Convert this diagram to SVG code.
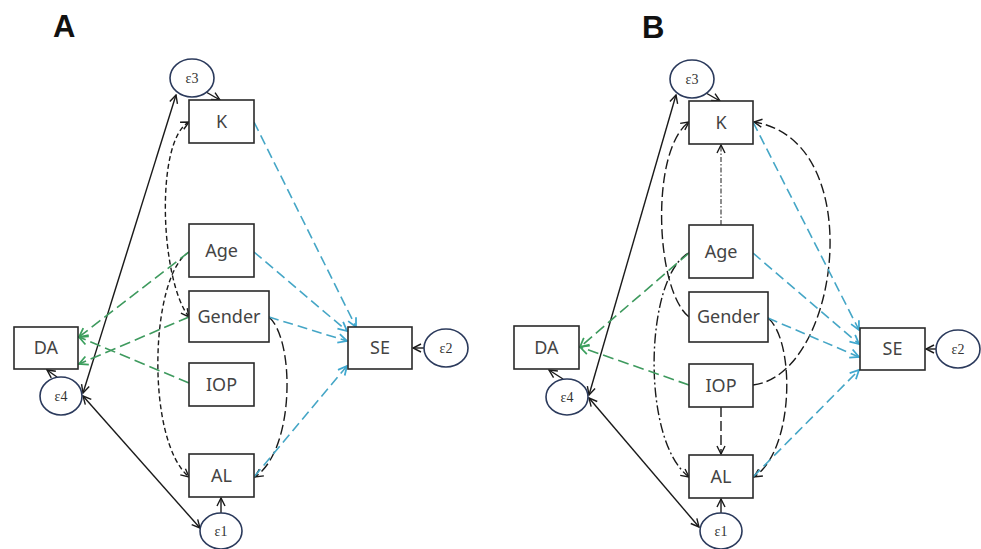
<svg xmlns="http://www.w3.org/2000/svg" width="981" height="549" viewBox="0 0 981 549">
<style>
.bg{fill:#ffffff}
.box{fill:#ffffff;stroke:#2a2a2a;stroke-width:1.6}
.err{fill:#ffffff;stroke:#2b3a5c;stroke-width:1.6}
.lbl{font-family:"Noto Sans","Open Sans","Liberation Sans",sans-serif;font-size:18px;fill:#444;text-anchor:middle}
.elbl{font-family:"Liberation Serif","DejaVu Serif",serif;font-size:14px;fill:#333;text-anchor:middle}
.panel{font-family:"Liberation Sans","Arial",sans-serif;font-size:31px;font-weight:bold;fill:#111}
.c{fill:none;stroke:#1a1a1a;stroke-width:1.4}
.sd{stroke-dasharray:5 3}
.ld{stroke-dasharray:10 4}
.dd{stroke-dasharray:10 3 2 3}
.dd2{stroke-dasharray:5 2 1.5 2;stroke-width:1}
.g{fill:none;stroke:#3e9a5e;stroke-width:1.6;stroke-dasharray:11 5}
.b{fill:none;stroke:#45a6c6;stroke-width:1.6;stroke-dasharray:10 5}
</style>
<defs>
<marker id="ak" viewBox="0 0 10 10" refX="9" refY="5" markerWidth="10" markerHeight="10" markerUnits="userSpaceOnUse" orient="auto-start-reverse"><path d="M1,1 L9,5 L1,9" fill="none" stroke="#1a1a1a" stroke-width="1.4"/></marker>
<marker id="ag" viewBox="0 0 10 10" refX="9" refY="5" markerWidth="11" markerHeight="11" markerUnits="userSpaceOnUse" orient="auto"><path d="M1,1 L9,5 L1,9" fill="none" stroke="#3ca05e" stroke-width="1.6"/></marker>
<marker id="ab" viewBox="0 0 10 10" refX="9" refY="5" markerWidth="11" markerHeight="11" markerUnits="userSpaceOnUse" orient="auto"><path d="M1,1 L9,5 L1,9" fill="none" stroke="#3fa8d0" stroke-width="1.6"/></marker>
</defs>
<rect class="bg" x="0" y="0" width="981" height="549"/>
<text class="panel" x="53" y="37">A</text>
<text class="panel" x="642" y="38">B</text>

<g id="connectors">
<!-- Panel A -->
<path class="c" d="M206,92 L220,100" marker-end="url(#ak)"/>
<path class="c" d="M57,377 L47,370" marker-end="url(#ak)"/>
<path class="c" d="M221,513 L221,498" marker-end="url(#ak)"/>
<path class="c" d="M424,348 L413,348" marker-end="url(#ak)"/>
<path class="c" d="M176,95 L83,393" marker-start="url(#ak)" marker-end="url(#ak)"/>
<path class="c" d="M83,396 L200,528" marker-start="url(#ak)" marker-end="url(#ak)"/>
<path class="c sd" d="M189,122 C155,140 160,280 189,317" marker-start="url(#ak)" marker-end="url(#ak)"/>
<path class="c sd" d="M189,252 C150,275 145,440 189,477" marker-end="url(#ak)"/>
<path class="c ld" d="M269,317 C295,340 295,450 255,477" marker-end="url(#ak)"/>
<path class="g" d="M189,252 L79,337" marker-end="url(#ag)"/>
<path class="g" d="M189,383 L79,337" marker-end="url(#ag)"/>
<path class="g" d="M189,317 L79,364" marker-end="url(#ag)"/>
<path class="b" d="M254,122 L356,327" marker-end="url(#ab)"/>
<path class="b" d="M254,252 L347,331" marker-end="url(#ab)"/>
<path class="b" d="M269,317 L347,341" marker-end="url(#ab)"/>
<path class="b" d="M254,477 L347,366" marker-end="url(#ab)"/>
<!-- Panel B -->
<path class="c" d="M706,93 L720,101" marker-end="url(#ak)"/>
<path class="c" d="M563,379 L549,370" marker-end="url(#ak)"/>
<path class="c" d="M721,513 L721,499" marker-end="url(#ak)"/>
<path class="c" d="M936,349 L926,349" marker-end="url(#ak)"/>
<path class="c" d="M676,95 L589,395" marker-start="url(#ak)" marker-end="url(#ak)"/>
<path class="c" d="M589,398 L699,527" marker-start="url(#ak)" marker-end="url(#ak)"/>
<path class="c dd2" d="M721,225 L721,145" marker-end="url(#ak)"/>
<path class="c ld" d="M689,317 C655,290 650,150 689,122" marker-end="url(#ak)"/>
<path class="c dd" d="M689,253 C645,275 640,440 689,477" marker-end="url(#ak)"/>
<path class="c ld" d="M768,318 C795,340 795,450 754,477" marker-end="url(#ak)"/>
<path class="c ld" d="M753,385 C840,375 870,140 754,122" marker-end="url(#ak)"/>
<path class="c ld" d="M721,407 L721,454" marker-end="url(#ak)"/>
<path class="g" d="M689,253 L580,347" marker-end="url(#ag)"/>
<path class="g" d="M689,385 L580,347" marker-end="url(#ag)"/>
<path class="b" d="M753,122 L859,330" marker-end="url(#ab)"/>
<path class="b" d="M753,253 L859,344" marker-end="url(#ab)"/>
<path class="b" d="M768,318 L859,357" marker-end="url(#ab)"/>
<path class="b" d="M753,477 L859,370" marker-end="url(#ab)"/>
</g>

<!-- Panel A nodes -->
<g id="A_e3"><ellipse class="err" cx="192" cy="78" rx="22" ry="19"/><text class="elbl" x="192" y="83">ε3</text></g>
<g id="A_K"><rect class="box" x="189" y="100" width="65" height="43"/><text class="lbl" x="221.5" y="128">K</text></g>
<g id="A_Age"><rect class="box" x="189" y="224" width="65" height="53"/><text class="lbl" x="221.5" y="257">Age</text></g>
<g id="A_Gender"><rect class="box" x="189" y="291" width="80" height="51"/><text class="lbl" x="229" y="323">Gender</text></g>
<g id="A_IOP"><rect class="box" x="189" y="363" width="65" height="43"/><text class="lbl" x="221.5" y="391">IOP</text></g>
<g id="A_AL"><rect class="box" x="189" y="454" width="65" height="43"/><text class="lbl" x="221.5" y="482">AL</text></g>
<g id="A_DA"><rect class="box" x="14" y="327" width="64" height="42"/><text class="lbl" x="46" y="354">DA</text></g>
<g id="A_SE"><rect class="box" x="348" y="327" width="64" height="42"/><text class="lbl" x="380" y="354">SE</text></g>
<g id="A_e4"><ellipse class="err" cx="61" cy="396" rx="21" ry="19"/><text class="elbl" x="61" y="401">ε4</text></g>
<g id="A_e1"><ellipse class="err" cx="221" cy="531" rx="21" ry="18"/><text class="elbl" x="221" y="536">ε1</text></g>
<g id="A_e2"><ellipse class="err" cx="446" cy="348" rx="22" ry="19"/><text class="elbl" x="446" y="353">ε2</text></g>

<!-- Panel B nodes -->
<g id="B_e3"><ellipse class="err" cx="692" cy="79" rx="22" ry="19"/><text class="elbl" x="692" y="84">ε3</text></g>
<g id="B_K"><rect class="box" x="689" y="101" width="64" height="43"/><text class="lbl" x="721" y="129">K</text></g>
<g id="B_Age"><rect class="box" x="689" y="225" width="64" height="53"/><text class="lbl" x="721" y="258">Age</text></g>
<g id="B_Gender"><rect class="box" x="689" y="292" width="79" height="50"/><text class="lbl" x="728.5" y="323">Gender</text></g>
<g id="B_IOP"><rect class="box" x="689" y="364" width="64" height="43"/><text class="lbl" x="721" y="392">IOP</text></g>
<g id="B_AL"><rect class="box" x="689" y="455" width="64" height="43"/><text class="lbl" x="721" y="483">AL</text></g>
<g id="B_DA"><rect class="box" x="514" y="326" width="65" height="43"/><text class="lbl" x="546.5" y="354">DA</text></g>
<g id="B_SE"><rect class="box" x="860" y="328" width="65" height="42"/><text class="lbl" x="892.5" y="355">SE</text></g>
<g id="B_e4"><ellipse class="err" cx="567" cy="397" rx="21" ry="18"/><text class="elbl" x="567" y="402">ε4</text></g>
<g id="B_e1"><ellipse class="err" cx="721" cy="531" rx="21" ry="18"/><text class="elbl" x="721" y="536">ε1</text></g>
<g id="B_e2"><ellipse class="err" cx="958" cy="349" rx="22" ry="19"/><text class="elbl" x="958" y="354">ε2</text></g>
</svg>
